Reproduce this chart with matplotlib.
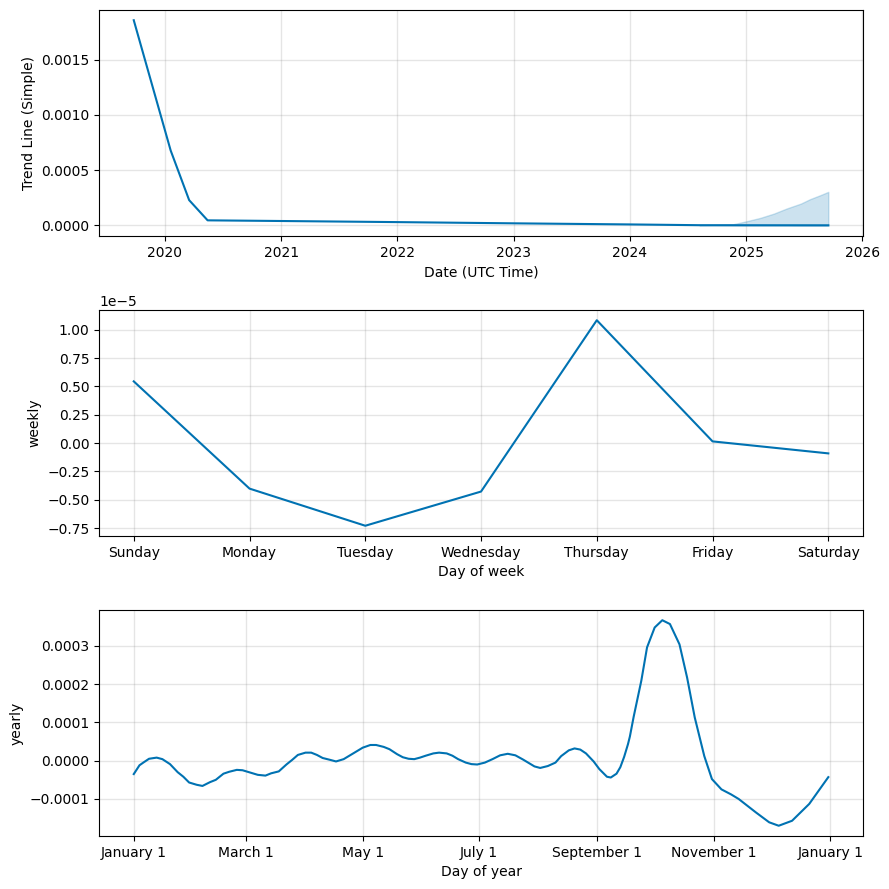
import matplotlib
matplotlib.use("Agg")
from matplotlib import pyplot as plt
from matplotlib.dates import MonthLocator
from matplotlib.ticker import FuncFormatter
import matplotlib.dates as mdates
import numpy as np
import pandas as pd

# trend line (history + forecast)
trend_dates = ["2019-09-26", "2020-01-20", "2020-03-18", "2020-05-15", "2021-01-01",
               "2022-01-01", "2023-01-01", "2024-01-01", "2024-08-07", "2025-09-16"]
trend_vals = [1.857e-3, 6.77e-4, 2.28e-4, 4.5e-5, 3.9e-5,
              2.9e-5, 1.8e-5, 0.8e-5, 0.1e-5, 0.0]

# uncertainty band on the forecast part
band_dates = ["2024-08-07", "2024-11-20", "2025-01-01", "2025-02-14", "2025-03-29",
              "2025-05-08", "2025-06-22", "2025-07-20", "2025-08-22", "2025-09-16"]
band_upper = [0.1e-5, 0.9e-5, 3.6e-5, 6.7e-5, 10.6e-5,
              15.2e-5, 19.7e-5, 23.6e-5, 27.3e-5, 30.3e-5]
band_lower = [0.1e-5, -0.2e-5, -0.3e-5, -0.3e-5, -0.3e-5,
              -0.3e-5, -0.4e-5, -0.4e-5, -0.4e-5, -0.4e-5]

# weekly seasonality
week_days = ["Sunday", "Monday", "Tuesday", "Wednesday", "Thursday", "Friday", "Saturday"]
weekly_vals = [0.545e-5, -0.402e-5, -0.730e-5, -0.428e-5, 1.085e-5, 0.015e-5, -0.091e-5]

# yearly seasonality: day of year, value (x1e-4)
year_days = [0, 3, 5, 8, 12, 15, 19, 23, 26, 29, 33, 36, 40, 43, 47, 50, 54, 57, 61,
             65, 69, 72, 76, 80, 83, 86, 90, 93, 96, 99, 103, 106, 110, 113, 117, 120,
             124, 127, 131, 134, 138, 141, 144, 147, 150, 153, 157, 160, 164, 167, 170,
             174, 177, 180, 184, 188, 192, 196, 200, 204, 207, 210, 213, 217, 221, 224,
             228, 231, 234, 237, 241, 244, 248, 250, 253, 255, 257, 259, 260, 262, 266,
             269, 273, 277, 281, 286, 290, 294, 299, 303, 308, 313, 317, 326, 333, 338,
             345, 354, 364]
yearly_vals = [-0.35, -0.12, -0.05, 0.05, 0.08, 0.04, -0.09, -0.30, -0.42, -0.57, -0.63,
               -0.66, -0.56, -0.50, -0.34, -0.29, -0.24, -0.25, -0.31, -0.37, -0.39, -0.33,
               -0.28, -0.10, 0.02, 0.15, 0.21, 0.21, 0.15, 0.07, 0.02, -0.02, 0.04, 0.13,
               0.25, 0.34, 0.41, 0.41, 0.36, 0.30, 0.17, 0.09, 0.05, 0.04, 0.08, 0.13,
               0.19, 0.21, 0.19, 0.13, 0.04, -0.05, -0.09, -0.10, -0.05, 0.04, 0.14, 0.18,
               0.14, 0.03, -0.06, -0.15, -0.19, -0.14, -0.05, 0.12, 0.27, 0.32, 0.29, 0.19,
               -0.02, -0.22, -0.42, -0.44, -0.34, -0.17, 0.10, 0.43, 0.63, 1.15, 2.09,
               2.96, 3.48, 3.67, 3.57, 3.04, 2.17, 1.13, 0.12, -0.48, -0.75, -0.88, -1.0,
               -1.35, -1.61, -1.70, -1.57, -1.13, -0.43]

blue = "#0072B2"

fig, axes = plt.subplots(3, 1, figsize=(8.89, 8.89), dpi=100)
fig.subplots_adjust(left=0.1114, right=0.9708, top=0.9888, bottom=0.0596, hspace=0.327)

# trend
ax = axes[0]
td = pd.to_datetime(trend_dates)
bd = pd.to_datetime(band_dates)
ax.plot(td, trend_vals, ls="-", c=blue)
ax.fill_between(bd, band_lower, band_upper, color=blue, alpha=0.2)
ax.xaxis.set_major_locator(mdates.YearLocator())
ax.xaxis.set_major_formatter(mdates.DateFormatter("%Y"))
ax.grid(True, which="major", c="gray", ls="-", lw=1, alpha=0.2)
ax.set_xlabel("Date (UTC Time)")
ax.set_ylabel("Trend Line (Simple)")

# weekly
ax = axes[1]
ax.plot(range(len(week_days)), weekly_vals, ls="-", c=blue)
ax.set_xticks(range(len(week_days)))
ax.set_xticklabels(week_days)
ax.grid(True, which="major", c="gray", ls="-", lw=1, alpha=0.2)
ax.set_xlabel("Day of week")
ax.set_ylabel("weekly")

# yearly
ax = axes[2]
yd = pd.Timestamp("2017-01-01") + pd.to_timedelta(year_days, unit="D")
ax.plot(yd, np.array(yearly_vals) * 1e-4, ls="-", c=blue)
ax.xaxis.set_major_locator(MonthLocator(bymonth=range(1, 13), bymonthday=1, interval=2))
ax.xaxis.set_major_formatter(FuncFormatter(
    lambda x, pos=None: "{dt:%B} {dt.day}".format(dt=mdates.num2date(x))))
ax.grid(True, which="major", c="gray", ls="-", lw=1, alpha=0.2)
ax.set_xlabel("Day of year")
ax.set_ylabel("yearly")

fig.savefig("out.png")
